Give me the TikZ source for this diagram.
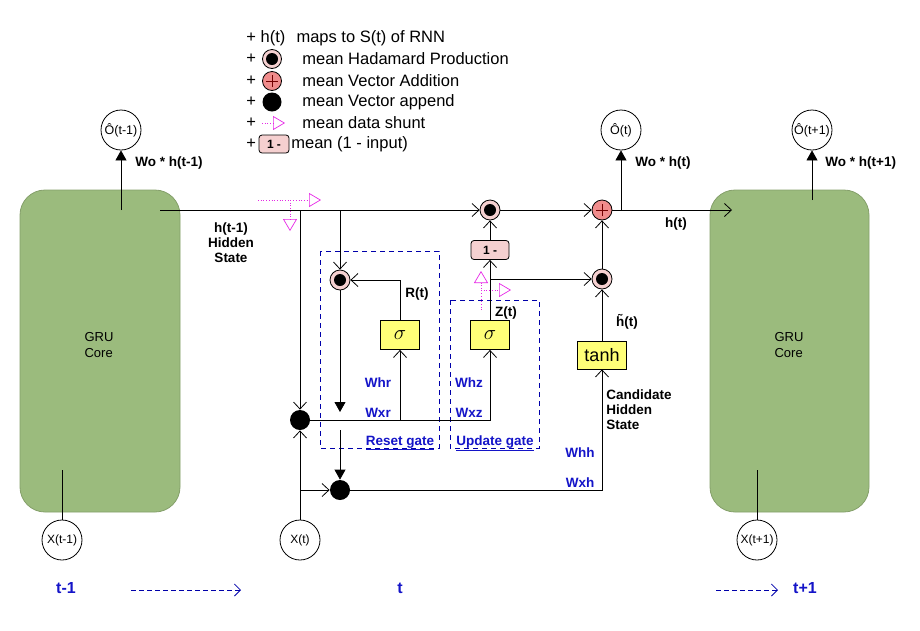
\documentclass[tikz,border=0pt]{standalone}
\usepackage{fontspec}
\setmainfont{Liberation Sans}
\usetikzlibrary{arrows.meta,shapes.geometric}
\definecolor{gru}{RGB}{155,187,125}
\definecolor{hpink}{RGB}{245,208,208}
\definecolor{apink}{RGB}{240,140,140}
\definecolor{ybox}{RGB}{255,255,120}
\definecolor{wblue}{RGB}{20,20,200}
\definecolor{gblue}{RGB}{0,0,170}
\definecolor{shuntc}{RGB}{230,40,230}
\begin{document}
\begin{tikzpicture}[x=1pt,y=-1pt,line width=0.8pt,
  oa/.style={-{Straight Barb[length=7pt,width=13pt]}},
  fa/.style={-{Triangle[length=10pt,width=11pt]}},
  hada/.style={circle,draw,fill=hpink,minimum size=20pt,inner sep=0pt,
    path picture={\fill[black] (path picture bounding box.center) circle (6pt);}},
  plusn/.style={circle,draw,fill=apink,minimum size=20pt,inner sep=0pt,
    path picture={\draw[red!45!black,line width=0.7pt] (path picture bounding box.center) ++(-6pt,0pt) -- ++(12pt,0pt);
                  \draw[red!45!black,line width=0.7pt] (path picture bounding box.center) ++(0pt,-6pt) -- ++(0pt,12pt);}},
  vdot/.style={circle,fill=black,minimum size=20pt,inner sep=0pt},
  sig/.style={draw,fill=ybox,minimum width=39pt,minimum height=29pt,inner sep=0pt,font=\fontsize{22}{22}\selectfont},
  onebox/.style={draw,fill=hpink,rounded corners=3pt,minimum width=38pt,minimum height=19pt,inner sep=0pt,font=\bfseries\fontsize{12}{12}\selectfont},
  gbox/.style={fill=gru,draw=gru!85!black,rounded corners=25pt},
  outc/.style={circle,draw,minimum size=40pt,inner sep=0pt,font=\fontsize{12.5}{12.5}\selectfont},
  inc/.style={circle,draw,minimum size=40pt,inner sep=0pt,font=\fontsize{12}{12}\selectfont},
  lbl/.style={font=\bfseries\fontsize{13.5}{15}\selectfont,inner sep=0pt},
  wlbl/.style={lbl,text=wblue},
  leg/.style={font=\fontsize{16.5}{18}\selectfont,inner sep=0pt,anchor=west},
  gatebox/.style={draw=gblue,dash pattern=on 5pt off 4pt,line width=0.8pt},
  shuntl/.style={shuntc,dotted,line width=0.7pt,-{Triangle[open,length=12pt,width=14pt]}},
  tlbl/.style={font=\bfseries\fontsize{16}{16}\selectfont,text=wblue,inner sep=0pt},
  tarr/.style={gblue,dash pattern=on 5pt off 3pt,line width=0.8pt,-{Straight Barb[length=6pt,width=12pt]}},
  corelbl/.style={font=\fontsize{13}{16}\selectfont,align=left,inner sep=0pt}
]
\useasboundingbox (0,0) rectangle (920,630);
% GRU boxes
\path[gbox] (20,190) rectangle (180,512);
\path[gbox] (710,190) rectangle (869,512);
\node[corelbl] (gl) at (99,345) {GRU\\Core};
\node[corelbl] (gr) at (789,345) {GRU\\Core};
% gate boxes
\draw[gatebox] (320,251) rectangle (439,448);
\draw[gatebox] (450,300) rectangle (539,448);
% legend
\node[leg] (l1) at (246,38) {+ h(t)\hspace{0.4em} maps to S(t) of RNN};
\node[leg] (p2) at (246,59) {+};
\node[leg] (p3) at (246,81) {+};
\node[leg] (p4) at (246,102) {+};
\node[leg] (p5) at (246,123) {+};
\node[leg] (p6) at (246,144) {+};
\node[hada,minimum size=19pt] (lh) at (272,59) {};
\node[plusn,minimum size=19pt] (lp) at (272,81) {};
\node[vdot,minimum size=19pt] (ld) at (272,102) {};
\coordinate (ls1) at (262,123);
\coordinate (ls2) at (285,123);
\draw[shuntl] (ls1) -- (ls2);
\node[onebox,minimum width=30pt,minimum height=18pt] (lo) at (274,144) {1 -};
\node[leg] (t2) at (302,59) {mean Hadamard Production};
\node[leg] (t3) at (302,81) {mean Vector Addition};
\node[leg] (t4) at (302,102) {mean Vector append};
\node[leg] (t5) at (302,123) {mean data shunt};
\node[leg] (t6) at (291,144) {mean (1 - input)};
% output circles
\node[outc] (ot1) at (121,130) {Ô(t-1)};
\node[outc] (ot2) at (621,130) {Ô(t)};
\node[outc] (ot3) at (812,130) {Ô(t+1)};
% input circles
\node[inc] (xt1) at (62,540) {X(t-1)};
\node[inc] (xt2) at (300,540) {X(t)};
\node[inc] (xt3) at (757,540) {X(t+1)};
% operator nodes
\node[hada] (hada1) at (340,280) {};
\node[hada] (hada2) at (490,210) {};
\node[hada] (hada3) at (602,279) {};
\node[plusn] (plus) at (602,210) {};
\node[vdot] (dotA) at (300,420) {};
\node[vdot] (dotB) at (340,490) {};
\node[sig] (sigR) at (400,335) {$\sigma$};
\node[sig] (sigZ) at (490,335) {$\sigma$};
\node[draw,fill=ybox,minimum width=49pt,minimum height=28pt,inner sep=0pt,font=\fontsize{18}{18}\selectfont] (tanh) at (602,355) {tanh};
\node[onebox] (one) at (490,250) {1 -};
% coordinates
\coordinate (hs) at (160,210);
\coordinate (hend) at (732,210);
\coordinate (o1s) at (121,210);
\coordinate (o2s) at (621,210);
\coordinate (o3s) at (812,200);
\coordinate (x1e) at (62,470);
\coordinate (x3e) at (757,470);
\coordinate (jA) at (300,210);
\coordinate (jR) at (340,210);
\coordinate (jB) at (300,490);
\coordinate (rb1) at (340,412);
\coordinate (rb2) at (340,430);
\coordinate (cR) at (400,420);
\coordinate (cZ) at (490,420);
\coordinate (rt) at (400,280);
\coordinate (zt) at (490,279);
\coordinate (cT) at (602,490);
% connectors
\draw[oa] (hs) -- (hada2);
\draw[oa] (hada2) -- (plus);
\draw[oa] (plus) -- (hend);
\draw[fa] (o1s) -- (ot1);
\draw[fa] (o2s) -- (ot2);
\draw[fa] (o3s) -- (ot3);
\draw (xt1) -- (x1e);
\draw (xt3) -- (x3e);
\draw[oa] (jR) -- (hada1);
\draw[fa] (hada1) -- (rb1);
\draw[fa] (rb2) -- (dotB);
\draw[oa] (jA) -- (dotA);
\draw[oa] (xt2) -- (dotA);
\draw[oa] (jB) -- (dotB);
\draw[oa] (dotA) -- (cZ) -- (sigZ);
\draw[oa] (cR) -- (sigR);
\draw[oa] (sigR) -- (rt) -- (hada1);
\draw[oa] (sigZ) -- (one);
\draw[oa] (one) -- (hada2);
\draw[oa] (zt) -- (hada3);
\draw[oa] (tanh) -- (hada3);
\draw[oa] (hada3) -- (plus);
\draw[oa] (dotB) -- (cT) -- (tanh);
% shunts
\coordinate (s1a) at (258,200);
\coordinate (s1b) at (321,200);
\coordinate (s1c) at (290,200);
\coordinate (s1d) at (290,231);
\draw[shuntl] (s1a) -- (s1b);
\draw[shuntl] (s1c) -- (s1d);
\coordinate (s2a) at (481,310);
\coordinate (s2b) at (481,271);
\coordinate (s2c) at (481,290);
\coordinate (s2d) at (511,290);
\draw[shuntl] (s2a) -- (s2b);
\draw[shuntl] (s2c) -- (s2d);
% labels
\node[lbl,anchor=west] (w1) at (135,163) {Wo * h(t-1)};
\node[lbl,anchor=west] (w2) at (635,163) {Wo * h(t)};
\node[lbl,anchor=west] (w3) at (825,163) {Wo * h(t+1)};
\node[lbl,align=center,font=\bfseries\fontsize{13.5}{15}\selectfont] (hid) at (231,243) {h(t-1)\\Hidden\\State};
\node[lbl] (ht) at (676,224) {h(t)};
\node[lbl] (rtl) at (417,294) {R(t)};
\node[lbl] (ztl) at (506,313) {Z(t)};
\node[lbl] (htl) at (627,322) {\~{h}(t)};
\node[lbl,anchor=west,align=left] (cand) at (606,410) {Candidate\\Hidden\\State};
\node[wlbl] (whr) at (378,383) {Whr};
\node[wlbl] (wxr) at (378,413) {Wxr};
\node[wlbl] (whz) at (469,383) {Whz};
\node[wlbl] (wxz) at (469,413) {Wxz};
\node[wlbl] (whh) at (580,453) {Whh};
\node[wlbl] (wxh) at (580,483) {Wxh};
\node[wlbl] (rg) at (400,443) {\underline{Reset gate}};
\node[wlbl] (ug) at (495,443) {\underline{Update gate}};
% timeline
\node[tlbl] (tm1) at (66,588) {t-1};
\node[tlbl] (t0) at (400,588) {t};
\node[tlbl] (tp1) at (805,588) {t+1};
\coordinate (a1s) at (131,590);
\coordinate (a1e) at (241,590);
\coordinate (a2s) at (716,590);
\coordinate (a2e) at (778,590);
\draw[tarr] (a1s) -- (a1e);
\draw[tarr] (a2s) -- (a2e);
\end{tikzpicture}
\end{document}
